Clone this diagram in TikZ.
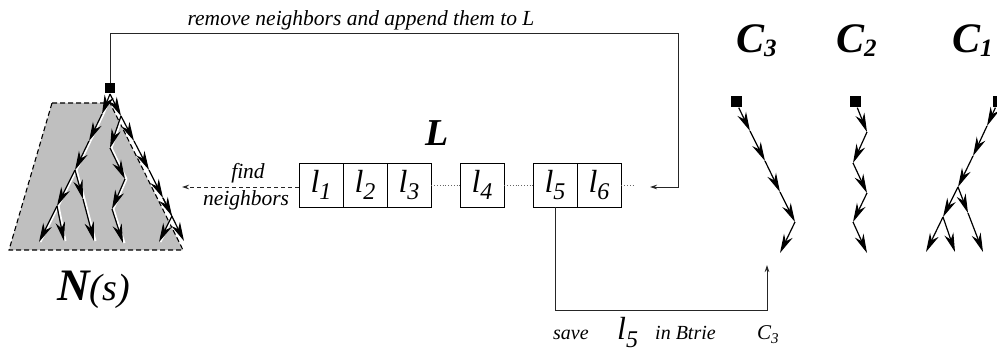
\documentclass[tikz,border=0pt]{standalone}
\usepackage{fontspec}
\setmainfont{Liberation Serif}
\usetikzlibrary{arrows.meta}
\newcommand{\fsz}[1]{\fontsize{#1}{#1}\selectfont}
\newcommand{\ellsub}[4]{{\fsz{#1}\itshape l}\raisebox{-#3pt}{\fsz{#2}\itshape #4}}
\begin{document}
\begin{tikzpicture}[x=1pt,y=-1pt,
  sq/.style={fill=black, minimum size=10pt, inner sep=0pt},
  tedge/.style={line width=1.2pt, -{Stealth[length=19pt,width=9.5pt,inset=6pt]}},
  halo/.style={line width=2pt, white},
  conn/.style={line width=0.8pt, black!85},
  tip/.style={-{Stealth[length=7pt,width=4.5pt]}},
  cell/.style={draw, line width=0.8pt, minimum width=44pt, minimum height=44pt, inner sep=0pt},
  dotline/.style={dotted, line width=0.8pt, black!60},
  lbl/.style={font=\fsz{21.5}\itshape, inner sep=0pt},
  ]
\useasboundingbox (0,0) rectangle (997,353);

% shaded neighbourhood N(s)
\filldraw[fill=black!25, draw=black, dashed, dash pattern=on 5pt off 3pt, line width=1.1pt]
  (52,103) -- (110,103) -- (183,250) -- (9,250) -- cycle;

% root of the search tree
\node[sq] (root) at (110,88) {};

% tree coordinates
\coordinate (r0) at (110,94);
\coordinate (a1) at (102,114);
\coordinate (a2) at (89,141);
\coordinate (a3) at (75,170);
\coordinate (a4) at (57,206);
\coordinate (a5) at (39,242);
\coordinate (a6) at (64,241);
\coordinate (a7) at (83,199);
\coordinate (a8) at (94,241);
\coordinate (b1) at (121,116);
\coordinate (b2) at (134,141);
\coordinate (b3) at (149,170);
\coordinate (b4) at (163,198);
\coordinate (b5) at (184,241);
\coordinate (b6) at (172,216);
\coordinate (b7) at (159,242);
\coordinate (m1) at (110,148);
\coordinate (m2) at (125,179);
\coordinate (m3) at (112,209);
\coordinate (m4) at (123,243);

\foreach \s/\t in {r0/a1,a1/a2,a2/a3,a3/a4,a4/a5,a4/a6,a3/a7,a7/a8,
                   r0/b1,b1/b2,b2/b3,b3/b4,b4/b5,b4/b6,b6/b7,
                   b1/m1,m1/m2,m2/m3,m3/m4}
  \draw[halo] ([xshift=1.5pt]\s) -- ([xshift=1.5pt]\t);
\foreach \s/\t in {r0/a1,a1/a2,a2/a3,a3/a4,a4/a5,a4/a6,a3/a7,a7/a8,
                   r0/b1,b1/b2,b2/b3,b3/b4,b4/b5,b4/b6,b6/b7,
                   b1/m1,m1/m2,m2/m3,m3/m4}
  \draw[tedge] (\s) -- (\t);

\node[anchor=base west, inner sep=0pt] (Ns) at (57,300)
  {{\fsz{45}\bfseries\itshape N}{\fsz{38}\itshape (s)}};

% list L
\node[font=\fsz{38}\bfseries\itshape, inner sep=0pt] (Lbl) at (437,133) {L};
\node[cell] (l1) at (321,185) {\ellsub{32}{24}{7}{1}};
\node[cell] (l2) at (365,185) {\ellsub{32}{24}{7}{2}};
\node[cell] (l3) at (409,185) {\ellsub{32}{24}{7}{3}};
\node[cell] (l4) at (482,185) {\ellsub{32}{24}{7}{4}};
\node[cell] (l5) at (555,185) {\ellsub{32}{24}{7}{5}};
\node[cell] (l6) at (599,185) {\ellsub{32}{24}{7}{6}};
\coordinate (dotend) at (633,185);
\draw[dotline] (l3.east) -- (l4.west);
\draw[dotline] (l4.east) -- (l5.west);
\draw[dotline] (l6.east) -- (dotend);

% find neighbours
\coordinate (fn) at (182,187);
\draw[conn, dashed, dash pattern=on 4pt off 3pt, tip] (l1.west |- fn) -- (fn);
\node[lbl, anchor=base] (find) at (248,178) {find};
\node[lbl, anchor=base] (neigh) at (246,205) {neighbors};

% remove neighbours and append them to L
\coordinate (tl) at (110,33);
\coordinate (tr) at (678,33);
\coordinate (Lin) at (650,187);
\draw[conn, tip] (root.north) -- (tl) -- (tr) |- (Lin);
\node[lbl, anchor=base] (remtxt) at (361,26) {remove neighbors and append them to L};

% save l5 in Btrie C3
\coordinate (bl) at (555,310);
\coordinate (s3) at (767,265);
\draw[conn, tip] (l5.south) -- (bl) -| (s3);
\node[anchor=base west, inner sep=0pt, font=\fsz{20}\itshape] (save) at (553,339) {save};
\node[anchor=base west, inner sep=0pt] (sl5) at (617,339) {\ellsub{32}{24}{8}{5}};
\node[anchor=base west, inner sep=0pt, font=\fsz{20}\itshape] (inbt) at (655,339) {in Btrie};
\node[anchor=base west, inner sep=0pt] (sc3) at (757,339)
  {{\fsz{21}\itshape C}\raisebox{-4pt}{\fsz{15}\itshape 3}};

% Btries
\node[anchor=base west, inner sep=0pt] (C3lbl) at (736,53)
  {{\fsz{42}\bfseries\itshape C}\raisebox{-4pt}{\fsz{25}\bfseries\itshape 3}};
\node[anchor=base west, inner sep=0pt] (C2lbl) at (836,53)
  {{\fsz{42}\bfseries\itshape C}\raisebox{-4pt}{\fsz{25}\bfseries\itshape 2}};
\node[anchor=base west, inner sep=0pt] (C1lbl) at (952,53)
  {{\fsz{42}\bfseries\itshape C}\raisebox{-4pt}{\fsz{25}\bfseries\itshape 1}};

% C3
\node[sq, minimum size=11pt] (c3sq) at (736,102) {};
\coordinate (p1) at (750,131);
\coordinate (p2) at (765,161);
\coordinate (p3) at (780,192);
\coordinate (p4) at (795,222);
\coordinate (p5) at (780,253);
\draw[tedge] (c3sq) -- (p1);
\foreach \s/\t in {p1/p2,p2/p3,p3/p4,p4/p5} \draw[tedge] (\s) -- (\t);

% C2
\node[sq, minimum size=11pt] (c2sq) at (855,102) {};
\coordinate (q1) at (867,132);
\coordinate (q2) at (853,163);
\coordinate (q3) at (867,193);
\coordinate (q4) at (853,222);
\coordinate (q5) at (867,253);
\draw[tedge] (c2sq) -- (q1);
\foreach \s/\t in {q1/q2,q2/q3,q3/q4,q4/q5} \draw[tedge] (\s) -- (\t);

% C1
\node[sq, minimum size=11pt] (c1sq) at (998,102) {};
\coordinate (u1) at (987,126);
\coordinate (u2) at (973,156);
\coordinate (u3) at (958,187);
\coordinate (u4) at (943,217);
\coordinate (u5) at (926,252);
\coordinate (u6) at (955,252);
\coordinate (u7) at (968,213);
\coordinate (u8) at (983,252);
\draw[tedge] (c1sq) -- (u1);
\foreach \s/\t in {u1/u2,u2/u3,u3/u4,u4/u5,u4/u6,u3/u7,u7/u8} \draw[tedge] (\s) -- (\t);
\end{tikzpicture}
\end{document}
